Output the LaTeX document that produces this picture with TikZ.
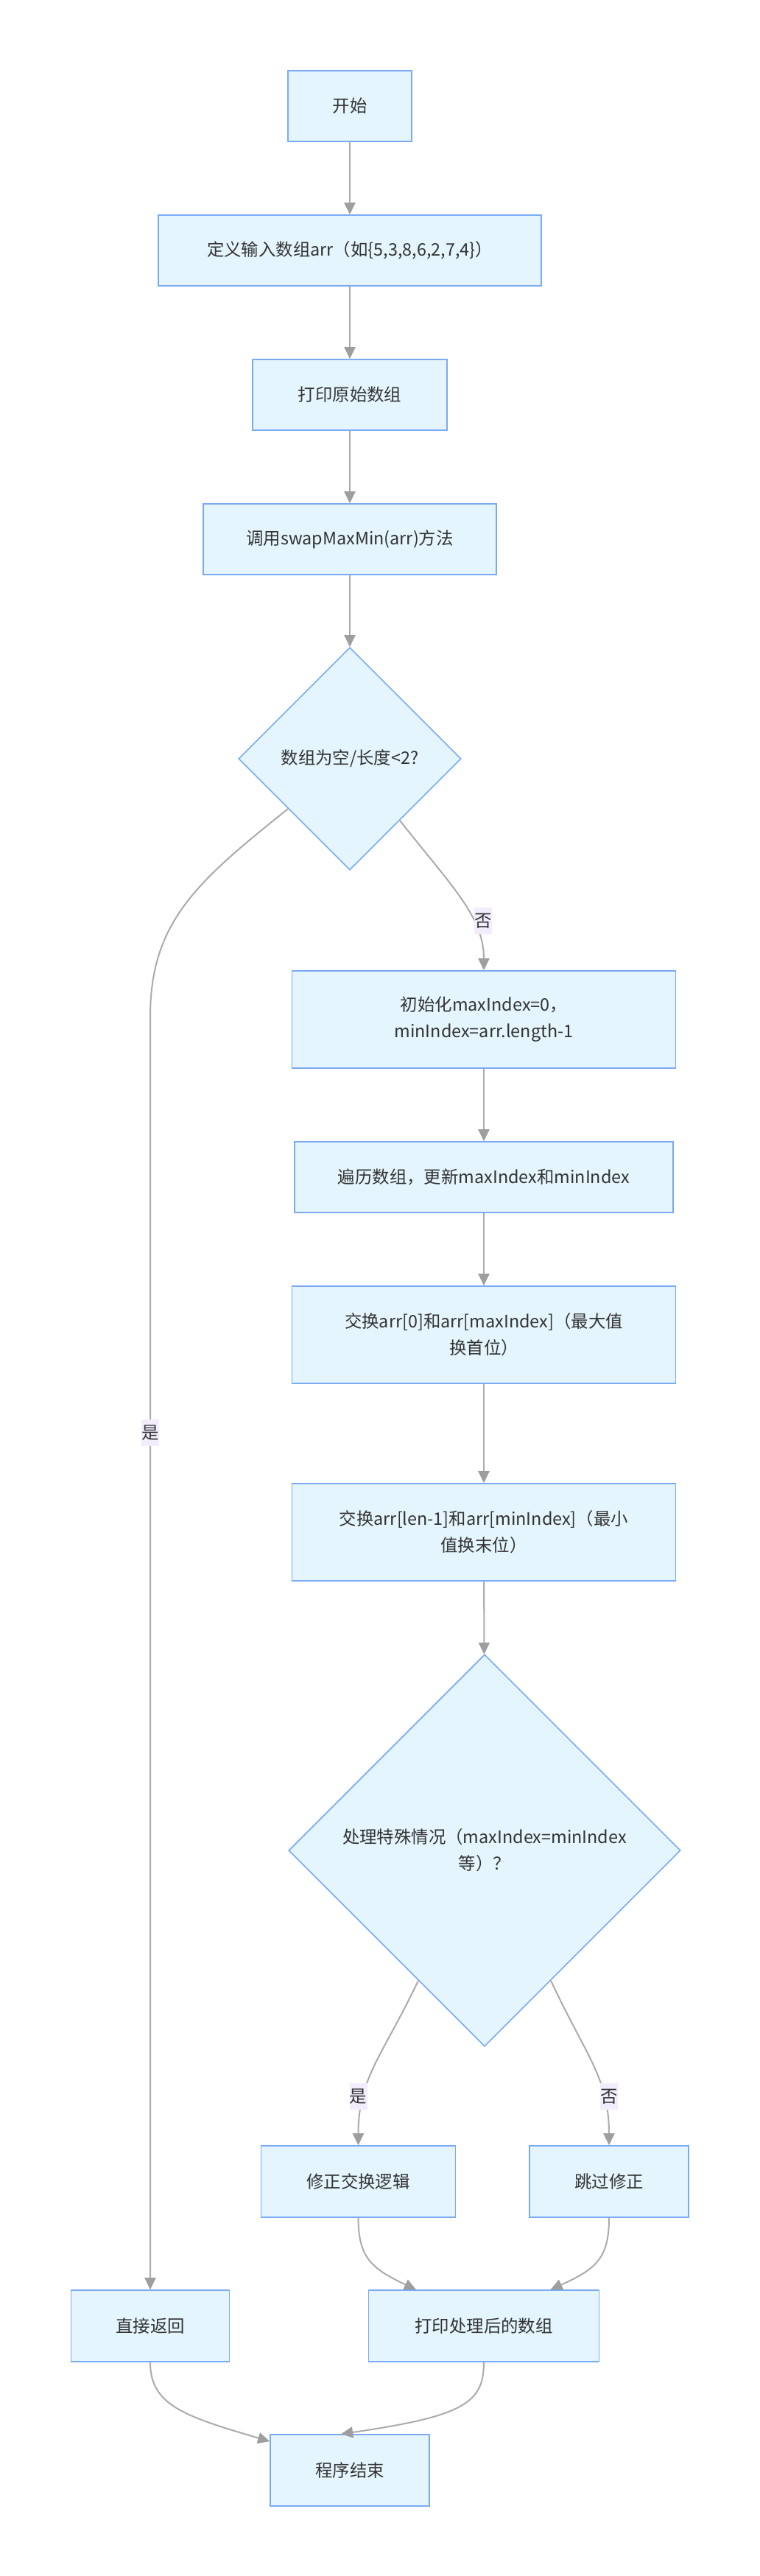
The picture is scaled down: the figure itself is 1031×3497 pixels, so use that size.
\documentclass[tikz,border=0pt]{standalone}
\usepackage{fontspec}
\setmainfont{Noto Sans CJK SC}
\usetikzlibrary{shapes.geometric,arrows.meta}
\definecolor{boxfill}{HTML}{E4F5FD}
\definecolor{boxline}{HTML}{7AAAF5}
\definecolor{edgecol}{HTML}{ABABAB}
\definecolor{tipcol}{HTML}{9E9E9E}
\definecolor{lblbg}{HTML}{F2ECFC}
\definecolor{txtcol}{HTML}{333333}
\tikzset{
  box/.style={draw=boxline, fill=boxfill, line width=1.6pt, inner sep=0pt, align=center, text=txtcol},
  decision/.style={diamond, aspect=1, draw=boxline, fill=boxfill, line width=1.6pt, inner sep=0pt, align=center, text=txtcol},
  flow/.style={draw=edgecol, line width=2pt, -{Triangle[length=16pt,width=15pt,fill=tipcol,color=tipcol]}},
  lbl/.style={fill=lblbg, inner sep=0pt, minimum width=24pt, minimum height=36pt, text=txtcol}
}
\begin{document}
\begin{tikzpicture}[x=1pt,y=-1pt,font=\fontsize{23.4pt}{36pt}\selectfont]
\useasboundingbox (0,0) rectangle (1031,3497);
\fill[white] (0,0) rectangle (1031,3497);
% nodes
\node[box, minimum width=168pt, minimum height=96pt] (start) at (475,144) {开始};
\node[box, minimum width=520pt, minimum height=96pt] (def) at (475,340) {定义输入数组arr（如\{5,3,8,6,2,7,4\}）};
\node[box, minimum width=264pt, minimum height=96pt] (print0) at (475,536) {打印原始数组};
\node[box, minimum width=398pt, minimum height=96pt] (call) at (475,732) {调用swapMaxMin(arr)方法};
\node[decision, minimum width=302pt, minimum height=302pt] (d1) at (475,1030) {数组为空/长度<2?};
\node[box, minimum width=521pt, minimum height=132pt] (init) at (657,1384) {初始化maxIndex=0，\\minIndex=arr.length-1};
\node[box, minimum width=514pt, minimum height=96pt] (trav) at (657,1598) {遍历数组，更新maxIndex和minIndex};
\node[box, minimum width=521pt, minimum height=132pt] (swap1) at (657,1812) {交换arr[0]和arr[maxIndex]（最大值\\换首位）};
\node[box, minimum width=521pt, minimum height=132pt] (swap2) at (657,2080) {交换arr[len-1]和arr[minIndex]（最小\\值换末位）};
\node[decision, minimum width=532pt, minimum height=532pt] (d2) at (658,2512) {处理特殊情况（maxIndex=minIndex\\等）？};
\node[box, minimum width=264pt, minimum height=97pt] (fix) at (486.5,2961.5) {修正交换逻辑};
\node[box, minimum width=216pt, minimum height=97pt] (skip) at (827,2961.5) {跳过修正};
\node[box, minimum width=215pt, minimum height=97pt] (ret) at (204,3157.5) {直接返回};
\node[box, minimum width=313pt, minimum height=97pt] (out) at (657,3157.5) {打印处理后的数组};
\node[box, minimum width=216pt, minimum height=97pt] (fin) at (475,3353.5) {程序结束};
% straight edges
\draw[flow] (start) -- (def);
\draw[flow] (def) -- (print0);
\draw[flow] (print0) -- (call);
\draw[flow] (call) -- (d1);
\draw[flow] (init) -- (trav);
\draw[flow] (trav) -- (swap1);
\draw[flow] (swap1) -- (swap2);
\draw[flow] (swap2) -- (d2);
% decision 1
\draw[flow] (d1.309) .. controls (615,1205) and (657,1245) .. (init.north);
\node[lbl] (lno1) at (656,1250) {否};
\draw[flow] (d1.219) .. controls (270,1195) and (204,1250) .. (204,1380) -- (ret.north);
\node[lbl] (lyes1) at (204,1945) {是};
% decision 2
\draw[flow] (d2.243) .. controls (520,2790) and (486.5,2820) .. (fix.north);
\node[lbl] (lyes2) at (486.5,2846) {是};
\draw[flow] (d2.297) .. controls (795,2790) and (827,2820) .. (skip.north);
\node[lbl] (lno2) at (827,2846) {否};
% merges
\draw[flow] (fix.south) .. controls (486.5,3065) and (505,3080) .. ([xshift=-92pt]out.north);
\draw[flow] (skip.south) .. controls (827,3065) and (810,3080) .. ([xshift=90.5pt]out.north);
\draw[flow] (ret.south) .. controls (204,3265) and (250,3280) .. ([yshift=-10pt]fin.north west);
\draw[flow] (out.south) .. controls (657,3262) and (630,3280) .. ([xshift=97pt]fin.north west);
\end{tikzpicture}
\end{document}
